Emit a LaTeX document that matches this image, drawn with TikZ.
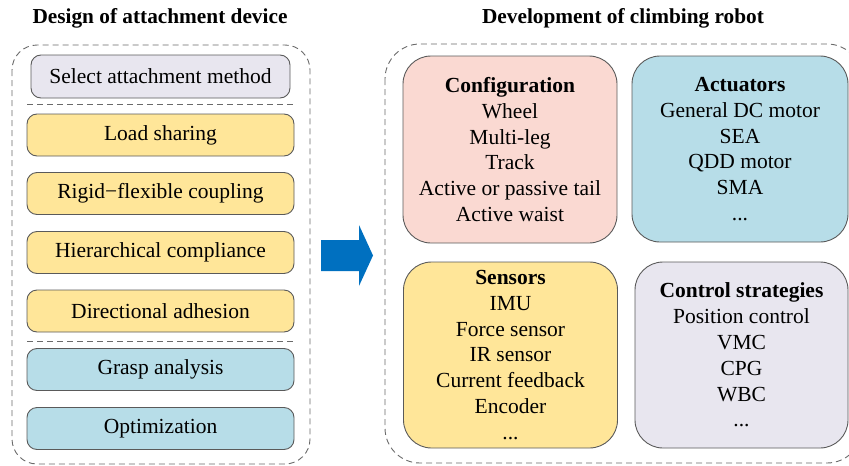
\documentclass[tikz,border=0pt]{standalone}
\usepackage{fontspec}
\setmainfont{Liberation Serif}
\usepackage{xcolor}
\usepackage{tikz}
\usetikzlibrary{positioning,calc}
\definecolor{PinkFill}{HTML}{FAD9D2}
\definecolor{BlueFill}{HTML}{B7DDE8}
\definecolor{GoldFill}{HTML}{FFE699}
\definecolor{LavFill}{HTML}{E8E6EF}
\definecolor{EdgeGray}{HTML}{5A5A5A}
\definecolor{DashGray}{HTML}{6A6A6A}
\definecolor{ArrowBlue}{HTML}{0070C0}

\begin{document}
\begin{tikzpicture}[x=1pt,y=-1pt,
    every node/.style={font=\fontsize{21.5}{25.8}\selectfont},
    bar/.style={draw=EdgeGray, line width=0.9pt, rounded corners=10pt,
                minimum width=267pt, minimum height=42pt, inner sep=0pt},
    card/.style={draw=EdgeGray, line width=0.9pt, rounded corners=28pt,
                 minimum width=214pt, minimum height=186pt, inner sep=0pt,
                 align=center},
    dashbox/.style={draw=DashGray, line width=0.9pt, dash pattern=on 6pt off 4pt},
    title/.style={font=\fontsize{21.3}{24}\selectfont\bfseries}]
  \useasboundingbox (0,0) rectangle (849,466);

  % left column
  \node[title] (ttlL) at (160,18) {Design of attachment device};
  \draw[dashbox, rounded corners=25pt] (12,45) rectangle (310,464);
  \node[bar, fill=LavFill, minimum width=259pt, minimum height=43pt]
    (sel) at (160.5,76.5) {Select attachment method};
  \node[bar, fill=GoldFill] (load)  at (160.5,135)   {Load sharing};
  \node[bar, fill=GoldFill] (rigid) at (160.5,193.5) {Rigid−flexible coupling};
  \node[bar, fill=GoldFill] (hier)  at (160.5,252.5) {Hierarchical compliance};
  \node[bar, fill=GoldFill] (dir)   at (160.5,311)   {Directional adhesion};
  \node[bar, fill=BlueFill] (grasp) at (160.5,369.5) {Grasp analysis};
  \node[bar, fill=BlueFill] (opt)   at (160.5,428.5) {Optimization};
  \draw[dashbox] (27,104) -- (293,104);
  \draw[dashbox] (27,341) -- (293,341);

  % arrow between the columns
  \fill[ArrowBlue] (321,240) -- (359,240) -- (359,225) -- (373,255.5)
    -- (359,286) -- (359,271) -- (321,271) -- cycle;

  % right column
  \node[title] (ttlR) at (623,18) {Development of climbing robot};
  \draw[dashbox, rounded corners=35pt] (385,44) rectangle (862,463);
  \node[card, fill=PinkFill, minimum height=187pt] (conf) at (510,149.5)
    {\textbf{Configuration}\\Wheel\\Multi-leg\\Track\\Active or passive tail\\Active waist};
  \node[card, fill=BlueFill, minimum width=216pt] (act) at (740,149)
    {\textbf{Actuators}\\General DC motor\\SEA\\QDD motor\\SMA\\...};
  \node[card, fill=GoldFill] (sens) at (510.5,355)
    {\textbf{Sensors}\\IMU\\Force sensor\\IR sensor\\Current feedback\\Encoder\\...};
  \node[card, fill=LavFill, minimum width=213pt] (ctrl) at (741.5,355)
    {\textbf{Control strategies}\\Position control\\VMC\\CPG\\WBC\\...};
\end{tikzpicture}
\end{document}
